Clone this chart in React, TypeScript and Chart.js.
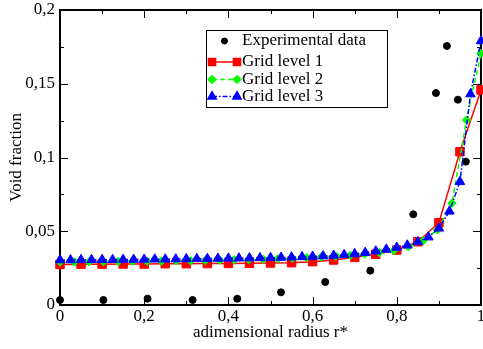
import React, { useEffect, useRef } from 'react';
import { Chart, registerables } from 'chart.js';
import { drawPoint } from 'chart.js/helpers';

Chart.register(...registerables);

// ---- data ----
const expX = [0, 0.103, 0.208, 0.315, 0.421, 0.525, 0.63, 0.737, 0.839, 0.893, 0.919, 0.945, 0.964];
const expY = [0.0034, 0.0034, 0.0043, 0.0034, 0.0043, 0.0086, 0.0156, 0.0233, 0.0615, 0.1437, 0.1756, 0.1392, 0.0972];

const grid1X = [0, 0.05, 0.1, 0.15, 0.2, 0.25, 0.3, 0.35, 0.4, 0.45, 0.5, 0.55, 0.6, 0.65, 0.7, 0.75, 0.8, 0.85, 0.9, 0.95, 1];
const grid1Y = [0.0275, 0.0277, 0.0277, 0.0278, 0.0278, 0.028, 0.028, 0.0281, 0.0282, 0.0283, 0.0285, 0.0287, 0.0294, 0.0305, 0.0323, 0.0344, 0.0373, 0.0429, 0.0558, 0.1039, 0.1458];

const grid2X = [0, 0.0345, 0.069, 0.1034, 0.1379, 0.1724, 0.2069, 0.2414, 0.2759, 0.3103, 0.3448, 0.3793, 0.4138, 0.4483, 0.4828, 0.5172, 0.5517, 0.5862, 0.6207, 0.6552, 0.6897, 0.7241, 0.7586, 0.7931, 0.8276, 0.8621, 0.8966, 0.931, 0.9655, 1];
const grid2Y = [0.0292, 0.0292, 0.0293, 0.0294, 0.0295, 0.0296, 0.0297, 0.0298, 0.0299, 0.03, 0.0302, 0.0304, 0.0306, 0.0308, 0.031, 0.0313, 0.0317, 0.0321, 0.0326, 0.0331, 0.0337, 0.0345, 0.0355, 0.037, 0.0395, 0.0435, 0.051, 0.069, 0.1254, 0.1706];

const grid3X = [0, 0.025, 0.05, 0.075, 0.1, 0.125, 0.15, 0.175, 0.2, 0.225, 0.25, 0.275, 0.3, 0.325, 0.35, 0.375, 0.4, 0.425, 0.45, 0.475, 0.5, 0.525, 0.55, 0.575, 0.6, 0.625, 0.65, 0.675, 0.7, 0.725, 0.75, 0.775, 0.8, 0.825, 0.85, 0.875, 0.9, 0.925, 0.95, 0.975, 1];
const grid3Y = [0.0305, 0.0305, 0.0306, 0.0306, 0.0307, 0.0307, 0.0308, 0.0308, 0.0309, 0.031, 0.031, 0.0311, 0.0312, 0.0313, 0.0314, 0.0315, 0.0316, 0.0317, 0.0318, 0.0319, 0.032, 0.0322, 0.0324, 0.0326, 0.0329, 0.0332, 0.0336, 0.034, 0.0346, 0.0355, 0.0365, 0.0377, 0.039, 0.0405, 0.0428, 0.046, 0.052, 0.0635, 0.0836, 0.143, 0.179];

const seriesNames = ['Experimental data', 'Grid level 1', 'Grid level 2', 'Grid level 3'];
const xTitle = 'adimensional radius r*';
const yTitle = 'Void fraction';

const FONT = 'Liberation Serif';
const FS = 17;

function fmt(v: number): string {
  const s = Number(v.toFixed(4)).toString();
  return s.replace('.', ',');
}

const pairs = (xs: number[], ys: number[]) => xs.map((x, i) => ({ x, y: ys[i] }));

const legendMarkerRadius = [3, 5, 3.8, 4.8];

const framePlugin = {
  id: 'frameTicks',
  beforeDatasetsDraw(chart: any) {
    const { ctx, chartArea } = chart;
    const { left, right, top, bottom } = chartArea;
    const xs = chart.scales.x;
    const ys = chart.scales.y;
    ctx.save();
    ctx.strokeStyle = '#000';
    ctx.lineWidth = 1;
    const major = 8;
    const minor = 4;
    const xt = xs.ticks.map((t: any) => t.value);
    const yt = ys.ticks.map((t: any) => t.value);
    const drawX = (v: number, len: number) => {
      const p = Math.round(xs.getPixelForValue(v)) + 0.5;
      ctx.beginPath();
      ctx.moveTo(p, bottom); ctx.lineTo(p, bottom - len);
      ctx.moveTo(p, top); ctx.lineTo(p, top + len);
      ctx.stroke();
    };
    const drawY = (v: number, len: number) => {
      const p = Math.round(ys.getPixelForValue(v)) + 0.5;
      ctx.beginPath();
      ctx.moveTo(left, p); ctx.lineTo(left + len, p);
      ctx.moveTo(right, p); ctx.lineTo(right - len, p);
      ctx.stroke();
    };
    xt.forEach((v: number, i: number) => {
      drawX(v, major);
      if (i < xt.length - 1) drawX((v + xt[i + 1]) / 2, minor);
    });
    yt.forEach((v: number, i: number) => {
      drawY(v, major);
      if (i < yt.length - 1) drawY((v + yt[i + 1]) / 2, minor);
    });
    ctx.lineWidth = 2;
    ctx.strokeRect(left, top, right - left, bottom - top);
    ctx.restore();
  },
};

const legendPlugin = {
  id: 'boxLegend',
  afterDraw(chart: any) {
    const { ctx, chartArea } = chart;
    const x0 = chartArea.left + 146;
    const y0 = chartArea.top + 20;
    const w = 181;
    const h = 77;
    const rows = [11, 32, 49.5, 66.5];
    ctx.save();
    ctx.fillStyle = '#fff';
    ctx.fillRect(x0, y0, w, h);
    ctx.strokeStyle = '#000';
    ctx.lineWidth = 1;
    ctx.strokeRect(x0 + 0.5, y0 + 0.5, w, h);
    ctx.font = `${FS}px "${FONT}"`;
    ctx.textBaseline = 'middle';
    chart.data.datasets.forEach((ds: any, i: number) => {
      const cy = y0 + rows[i];
      const sx1 = x0 + 6;
      const sx2 = x0 + 31;
      ctx.save();
      if (ds.showLine !== false) {
        ctx.strokeStyle = ds.borderColor;
        ctx.lineWidth = ds.borderWidth;
        ctx.setLineDash(ds.borderDash || []);
        ctx.beginPath();
        ctx.moveTo(sx1, cy);
        ctx.lineTo(sx2, cy);
        ctx.stroke();
        ctx.setLineDash([]);
        ctx.fillStyle = ds.pointBackgroundColor;
        ctx.strokeStyle = ds.pointBorderColor;
        const opts = { pointStyle: ds.pointStyle, radius: legendMarkerRadius[i], rotation: 0, borderWidth: 1 };
        drawPoint(ctx, opts, sx1, cy);
        drawPoint(ctx, opts, sx2, cy);
      } else {
        ctx.fillStyle = ds.pointBackgroundColor;
        ctx.strokeStyle = ds.pointBorderColor;
        drawPoint(ctx, { pointStyle: ds.pointStyle, radius: legendMarkerRadius[i], rotation: 0, borderWidth: 1 }, (sx1 + sx2) / 2, cy);
      }
      ctx.restore();
      ctx.fillStyle = '#000';
      ctx.fillText(ds.label, x0 + 36, cy);
    });
    ctx.restore();
  },
};

const zeroPad = (s: any) => {
  s.paddingTop = 0;
  s.paddingBottom = 0;
  s.paddingLeft = 0;
  s.paddingRight = 0;
};

export default function App() {
  const ref = useRef<HTMLCanvasElement | null>(null);
  useEffect(() => {
    if (!ref.current) return;
    Chart.defaults.font.family = FONT;
    const chart = new Chart(ref.current, {
      type: 'line',
      data: {
        datasets: [
          {
            label: seriesNames[0],
            data: pairs(expX, expY),
            showLine: false,
            pointStyle: 'circle',
            pointRadius: 3.5,
            pointBackgroundColor: '#000',
            pointBorderColor: '#000',
            borderColor: '#000',
            backgroundColor: '#000',
            order: 3,
            clip: false,
          } as any,
          {
            label: seriesNames[1],
            data: pairs(grid1X, grid1Y),
            borderColor: '#ff0000',
            borderWidth: 1.5,
            pointStyle: 'rect',
            pointRadius: 6,
            pointBackgroundColor: '#ff0000',
            pointBorderColor: '#ff0000',
            pointBorderWidth: 1,
            tension: 0,
            order: 2,
            clip: false,
          },
          {
            label: seriesNames[2],
            data: pairs(grid2X, grid2Y),
            borderColor: '#00ff00',
            borderWidth: 1.5,
            borderDash: [5, 3],
            pointStyle: 'rectRot',
            pointRadius: 4.2,
            pointBackgroundColor: '#00ff00',
            pointBorderColor: '#00ff00',
            pointBorderWidth: 1,
            tension: 0,
            order: 1,
            clip: false,
          },
          {
            label: seriesNames[3],
            data: pairs(grid3X, grid3Y),
            borderColor: '#0000ff',
            borderWidth: 1.5,
            borderDash: [5, 2, 1.5, 2],
            pointStyle: 'triangle',
            pointRadius: 5.5,
            pointBackgroundColor: '#0000ff',
            pointBorderColor: '#0000ff',
            pointBorderWidth: 1,
            tension: 0,
            order: 0,
            clip: false,
          },
        ],
      },
      options: {
        animation: false,
        responsive: false,
        devicePixelRatio: 1,
        layout: { autoPadding: false, padding: { top: 10, right: 2, left: 0, bottom: 0 } },
        plugins: { legend: { display: false }, tooltip: { enabled: false } },
        scales: {
          x: {
            type: 'linear',
            min: 0,
            max: 1,
            grid: { display: false, drawTicks: false },
            border: { display: false },
            ticks: {
              stepSize: 0.2,
              color: '#000',
              font: { family: FONT, size: FS },
              padding: 1,
              maxRotation: 0,
              callback: (v: any) => fmt(Number(v)),
            },
            title: {
              display: true,
              text: xTitle,
              color: '#000',
              font: { family: FONT, size: FS },
              padding: { top: 0, bottom: 6 },
            },
            afterFit: (s: any) => { s.height = 44; zeroPad(s); },
          },
          y: {
            type: 'linear',
            min: 0,
            max: 0.2,
            grid: { display: false, drawTicks: false },
            border: { display: false },
            ticks: {
              stepSize: 0.05,
              color: '#000',
              font: { family: FONT, size: FS },
              padding: 5,
              callback: (v: any) => fmt(Number(v)),
            },
            title: {
              display: true,
              text: yTitle,
              color: '#000',
              font: { family: FONT, size: FS },
              padding: { top: 6, bottom: 0 },
            },
            afterFit: (s: any) => { s.width = 60; zeroPad(s); },
          },
        },
      } as any,
      plugins: [framePlugin, legendPlugin],
    });
    return () => chart.destroy();
  }, []);
  return (
    <div style={{ position: 'fixed', left: 0, top: 0, width: 483, height: 349, background: '#fff' }}>
      <canvas ref={ref} width={483} height={349} style={{ width: 483, height: 349, display: 'block' }} />
    </div>
  );
}
